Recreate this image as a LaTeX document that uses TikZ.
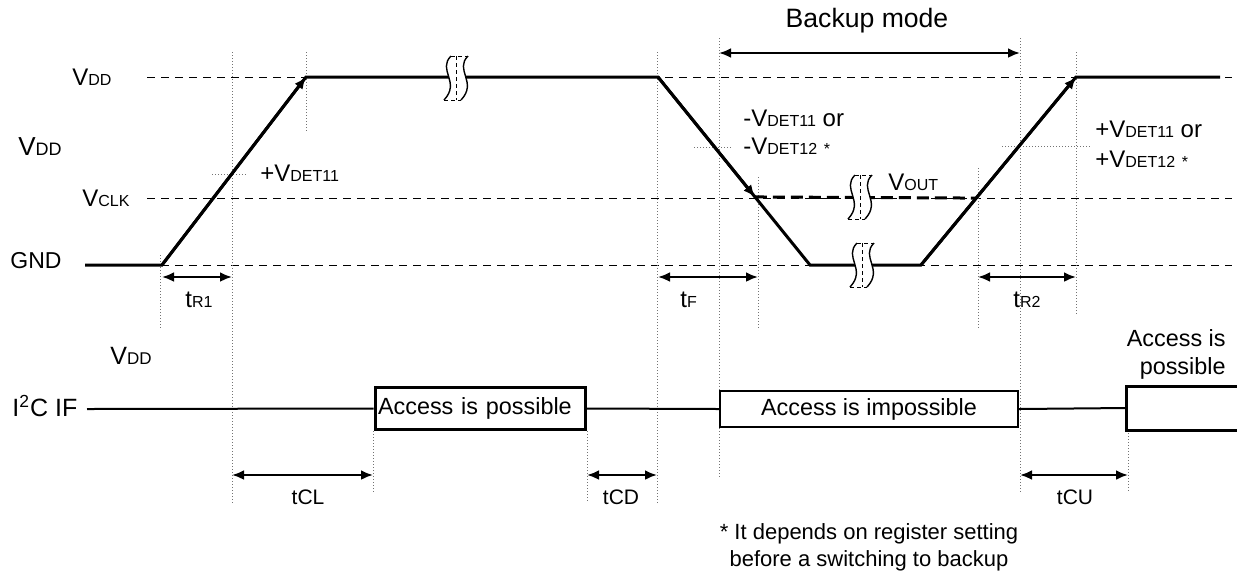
\documentclass[tikz,border=0pt]{standalone}
\usepackage{fontspec}
\setmainfont{Liberation Sans}
\usetikzlibrary{arrows.meta,calc}
\newcommand{\sm}[1]{{\fontsize{8}{9}\selectfont #1}}

\begin{document}
\begin{tikzpicture}[x=0.5pt, y=-0.5pt,
    trace/.style={line width=1.5pt},
    level/.style={line width=0.5pt, dash pattern=on 4pt off 3pt},
    guide/.style={line width=0.5pt, densely dotted, black!55},
    span/.style={line width=1.4pt, {Latex[length=6pt,width=5pt]}-{Latex[length=6pt,width=5pt]}},
    tip/.style={trace, -{Latex[length=6pt,width=5pt]}},
    lbl/.style={inner sep=0pt, font=\fontsize{12}{14}\selectfont},
    tlbl/.style={inner sep=0pt, font=\fontsize{10.5}{12}\selectfont},
    box1/.style={draw, line width=1.5pt, fill=white, minimum height=21pt, text width=102pt,
      inner xsep=1.5pt, align=left, font=\fontsize{11.7}{13}\selectfont},
    box2/.style={draw, line width=1pt, fill=white, minimum height=15pt, minimum width=149pt,
      font=\fontsize{11.7}{13}\selectfont},
    cut/.pic={
      \fill[white] (-4,-22) .. controls (-18,-8) and (6,4) .. (-11,22) -- (6,22)
        .. controls (23,4) and (-1,-8) .. (13,-22) -- cycle;
      \draw[line width=0.4pt, dash pattern=on 2pt off 1.5pt] (-4,-22) -- (13,-22) (-11,22) -- (6,22) (1,-22) -- (1,22);
      \draw[line width=0.7pt] (-4,-22) .. controls (-18,-8) and (6,4) .. (-11,22);
      \draw[line width=0.7pt] (13,-22) .. controls (-1,-8) and (23,4) .. (6,22);
    }]

  \useasboundingbox (0,0) rectangle (1237,575);

  \foreach \y in {77,198,265}
    \draw[level] (147,\y) -- (1232,\y);

  \foreach \x/\a/\b in {160/255/328, 232/52/503, 306/52/132, 373/431/494, 587/431/503,
      657/52/503, 719/38/478, 758/177/328, 978/168/328, 1020/38/492, 1076/52/316, 1128/430/492}
    \draw[guide] (\x,\a) -- (\x,\b);
  \draw[guide] (212,174) -- (248,174);
  \draw[guide] (694,147) -- (731,147);
  \draw[guide] (1002,146) -- (1092,146);

  \coordinate (g0) at (85,265);
  \coordinate (g1) at (162,265);
  \coordinate (h1) at (306,77);
  \coordinate (h2) at (658,77);
  \coordinate (l1) at (810,265);
  \coordinate (l2) at (921,265);
  \coordinate (h3) at (1076,77);
  \coordinate (h4) at (1220,77);
  \coordinate (f1) at ($(h2)!0.638!(l1)$);
  \coordinate (r1) at ($(l2)!0.356!(h3)$);

  \draw[line width=1.5pt, dash pattern=on 6pt off 3pt] (f1) -- (r1);
  \draw[trace] (g0) -- (g1) -- (h1) -- (h2) -- (l1) -- (l2) -- (h3) -- (h4);
  \draw[tip] (g1) -- (h1);
  \draw[tip] (h2) -- (f1);
  \draw[tip] (l2) -- (h3);

  \pic at (455,78) {cut};
  \pic at (859,197) {cut};
  \pic at (861,265) {cut};

  \node[lbl, anchor=base west] (vdd1) at (72,85) {V\sm{DD}};
  \node[lbl, anchor=base west, font=\fontsize{13}{15}\selectfont] (vdd2) at (18,155) {V{\fontsize{9}{10}\selectfont DD}};
  \node[lbl, anchor=base west] (vclk) at (82,206) {V\sm{CLK}};
  \node[lbl, anchor=base west, font=\fontsize{11.5}{13}\selectfont] (gnd) at (10,268) {GND};
  \node[lbl, anchor=base west] (det1) at (260,181) {+V\sm{DET11}};
  \node[lbl, anchor=base west] (det2) at (743,126) {-V\sm{DET11} or};
  \node[lbl, anchor=base west] (det3) at (743,154) {-V\sm{DET12} \sm{*}};
  \node[lbl, anchor=base west] (det4) at (1095,137) {+V\sm{DET11} or};
  \node[lbl, anchor=base west] (det5) at (1095,167) {+V\sm{DET12} \sm{*}};
  \node[lbl, anchor=base west] (vout) at (888,190) {V\sm{OUT}};

  \draw[span] (162,277) -- (232,277);
  \draw[span] (658,277) -- (758,277);
  \draw[span] (978,277) -- (1076,277);
  \node[lbl, anchor=base west] (tr1) at (185,307) {t\sm{R1}};
  \node[lbl, anchor=base west] (tf) at (680,307) {t\sm{F}};
  \node[lbl, anchor=base west] (tr2) at (1013,307) {t\sm{R2}};

  \draw[span] (719,53) -- (1020,53);
  \node[lbl, anchor=base, font=\fontsize{13.3}{15}\selectfont] (bkp) at (867,27) {Backup mode};

  \node[lbl, anchor=base west, font=\fontsize{12.5}{14}\selectfont] (vdd3) at (110,364) {V{\fontsize{8.5}{10}\selectfont DD}};
  \node[lbl, anchor=base west, font=\fontsize{12.5}{14}\selectfont] (i2c) at (12,416) {I\textsuperscript{2}C IF};
  \coordinate (i0) at (87,409);
  \node[box1] (acc1) at (480,408.5) {Access is possible};
  \node[box2] (acc2) at (869,409) {Access is impossible};
  \coordinate (acc3) at (1126,408);
  \draw[line width=1pt] (i0) -- (acc1.west) (acc1.east) -- (acc2.west) (acc2.east) -- (acc3);
  \draw[line width=1.5pt] (1237,386) -- (1126,386) -- (1126,430) -- (1237,430);
  \node[lbl, anchor=east, align=right, font=\fontsize{11.7}{14}\selectfont] (acc4) at (1226,354) {Access is\\possible};

  \draw[span] (232,475) -- (373,475);
  \draw[span] (587,475) -- (657,475);
  \draw[span] (1020,475) -- (1128,475);
  \node[tlbl, anchor=base] (tcl) at (308,504) {tCL};
  \node[tlbl, anchor=base] (tcd) at (621,504) {tCD};
  \node[tlbl, anchor=base] (tcu) at (1075,504) {tCU};

  \node[lbl, anchor=base, align=center, font=\fontsize{11}{13.5}\selectfont] (note) at (869,566)
    {* It depends on register setting\\before a switching to backup};
\end{tikzpicture}
\end{document}
